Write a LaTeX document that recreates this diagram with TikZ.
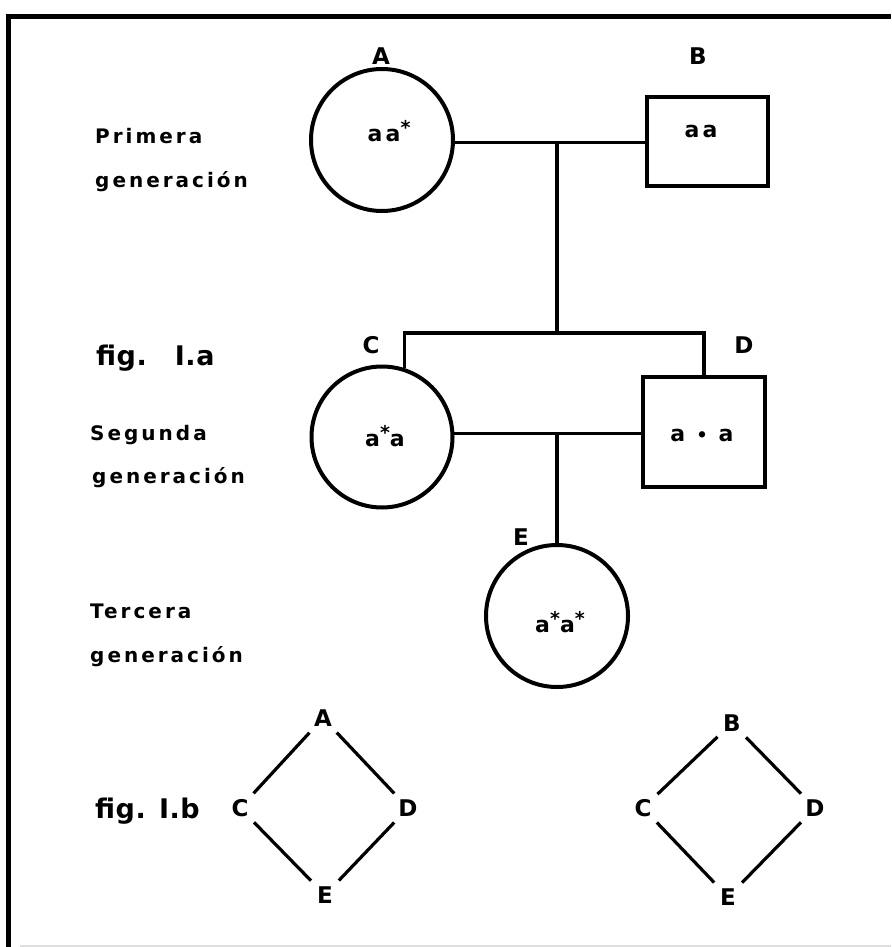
\documentclass[tikz,border=0pt]{standalone}
\usepackage{fontspec}
\setmainfont{DejaVu Sans}
\newfontfamily\labf[LetterSpace=15]{DejaVu Sans}
\newfontfamily\figf[LetterSpace=2]{DejaVu Sans}
\newcommand\astr{\raisebox{.32em}{\fontsize{19}{19}\selectfont\bfseries *}}
\begin{document}
\begin{tikzpicture}[x=1pt,y=-1pt,
  frame/.style={line width=5pt},
  female/.style={draw,circle,line width=4pt,minimum size=142pt,inner sep=0pt},
  male/.style={draw,rectangle,line width=4pt,inner sep=0pt},
  link/.style={line width=3.2pt},
  lbl/.style={font=\labf\bfseries\fontsize{23}{26}\selectfont,inner sep=0pt},
  gen/.style={font=\labf\bfseries\fontsize{20}{24}\selectfont,anchor=base west,inner sep=0pt},
  geno/.style={font=\labf\bfseries\fontsize{22}{24}\selectfont,inner sep=0pt},
  figlbl/.style={font=\figf\bfseries\fontsize{27}{30}\selectfont,anchor=base west,inner sep=0pt},
  dline/.style={line width=3.2pt,shorten <=20pt,shorten >=20pt}]
\useasboundingbox (0,0) rectangle (891,947);
% frame
\coordinate (ftr) at (891,17);
\coordinate (ftl) at (8.5,17);
\coordinate (fbl) at (8.5,947);
\coordinate (bbl) at (20,946);
\coordinate (bbr) at (891,946);
\draw[frame] (ftr) -- (ftl) -- (fbl);
\draw[gray!25,line width=1.5pt] (bbl) -- (bbr);

% first generation
\node[female] (A) at (382,140) {};
\node[male,minimum width=121pt,minimum height=89pt] (B) at (707.5,141.5) {};
\node[lbl] (lA) at (381,56) {A};
\node[lbl] (lB) at (698,56.5) {B};
\node[geno] (gA) at (389,131) {aa\astr};
\node[geno] (gB) at (701,131) {aa};
\coordinate (m1) at (557,142.5);
\draw[link] (A.-2) -- (A.-2 -| B.west);

% second generation
\coordinate (sib) at (557,333);
\node[female,minimum size=141pt] (C) at (382,437) {};
\node[male,minimum width=122pt,minimum height=110pt] (D) at (704,432) {};
\node[lbl] (lC) at (371,345.5) {C};
\node[lbl] (lD) at (744,345) {D};
\node[geno] (gC) at (385,436) {a\astr a};
\node[geno] (gD) at (702,435) {a {\fontsize{18}{18}\selectfont\textbullet} a};
\draw[link] (m1) -- (sib);
\draw[link] (C.72) |- (sib) -| (D.north);
\coordinate (m2) at (557,433);
\draw[link] (C.3) -- (C.3 -| D.west);

% third generation
\node[female] (E) at (557,616) {};
\node[lbl] (lE) at (521,537) {E};
\node[geno] (gE) at (560,622) {a\astr a\astr};
\draw[link] (m2) -- (E.north);

% left labels
\node[gen] (t1a) at (95,143) {Primera};
\node[gen] (t1b) at (95,187) {generación};
\node[figlbl] (f1) at (96,365) {fig.\hspace{28pt}I.a};
\node[gen] (t2a) at (90,440) {Segunda};
\node[gen] (t2b) at (92,483) {generación};
\node[gen] (t3a) at (90,618) {Tercera};
\node[gen] (t3b) at (90,662) {generación};
\node[figlbl] (f2) at (95,818) {fig. I.b};

% fig I.b diamonds
\node[lbl] (dA) at (323,718) {A};
\node[lbl] (dC) at (240,808) {C};
\node[lbl] (dD) at (408,808) {D};
\node[lbl] (dE) at (325,895) {E};
\draw[dline] (dA.center) -- (dC.center);
\draw[dline] (dA.center) -- (dD.center);
\draw[dline] (dC.center) -- (dE.center);
\draw[dline] (dD.center) -- (dE.center);

\node[lbl] (eB) at (732,723) {B};
\node[lbl] (eC) at (643,808) {C};
\node[lbl] (eD) at (815,808) {D};
\node[lbl] (eE) at (728,897) {E};
\draw[dline] (eB.center) -- (eC.center);
\draw[dline] (eB.center) -- (eD.center);
\draw[dline] (eC.center) -- (eE.center);
\draw[dline] (eD.center) -- (eE.center);
\end{tikzpicture}
\end{document}
